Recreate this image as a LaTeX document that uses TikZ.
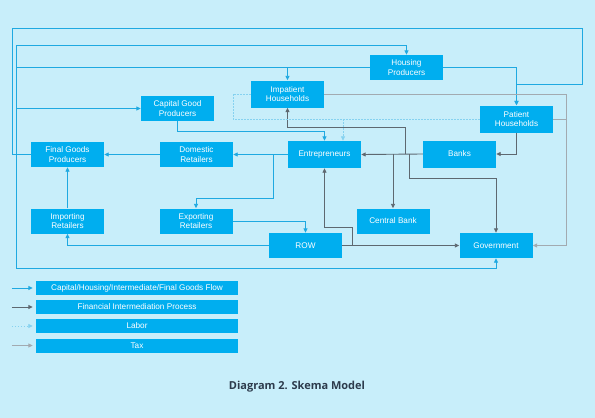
\documentclass[tikz,border=0pt]{standalone}
\usepackage{fontspec}
\setmainfont{Liberation Sans}
\newfontfamily\titlefont{Open Sans}
\usetikzlibrary{arrows.meta}
\definecolor{bgcyan}{HTML}{C8EEFA}
\definecolor{boxcyan}{HTML}{00AEEF}
\definecolor{flowblue}{HTML}{1FA9E1}
\definecolor{findark}{HTML}{5E6870}
\definecolor{laborblue}{HTML}{86D2F0}
\definecolor{taxgray}{HTML}{A2AAB0}
\definecolor{titleink}{HTML}{2D3B4C}
\begin{document}
\begin{tikzpicture}[x=1pt, y=-1pt, >={Triangle[length=4.5pt,width=4pt]},
  box/.style={fill=boxcyan, text=white, align=center, minimum width=73pt, minimum height=25pt, inner sep=1pt, font=\fontsize{8.2}{9.3}\selectfont},
  tallbox/.style={box, minimum height=27pt},
  legend/.style={box, minimum width=202pt, minimum height=14pt},
  flow/.style={draw=flowblue, line width=0.9pt},
  fin/.style={draw=findark, line width=0.9pt},
  labor/.style={draw=laborblue, line width=0.8pt, dash pattern=on 1.5pt off 1.5pt},
  tax/.style={draw=taxgray, line width=0.9pt}]
\fill[bgcyan] (0,0) rectangle (595,418);
\useasboundingbox (0,0) rectangle (595,418);
% agents
\node[box] (housing) at (406.5,67.5) {Housing\\Producers};
\node[tallbox] (impatient) at (287.5,94) {Impatient\\Households};
\node[box] (capital) at (177.5,108.5) {Capital Good\\Producers};
\node[tallbox] (patient) at (516.5,119) {Patient\\Households};
\node[box] (final) at (67.5,154.5) {Final Goods\\Producers};
\node[box] (domestic) at (196.5,154.5) {Domestic\\Retailers};
\node[tallbox] (entre) at (324.5,154.5) {Entrepreneurs};
\node[tallbox] (banks) at (459.5,154) {Banks};
\node[box] (importing) at (67.5,221) {Importing\\Retailers};
\node[box] (exporting) at (196,221) {Exporting\\Retailers};
\node[box] (central) at (393,221) {Central Bank};
\node[box] (row) at (305.5,245.5) {ROW};
\node[box] (government) at (496,245.5) {Government};
% turning points
\coordinate (outerTL) at (12,28);
\coordinate (outerTR) at (582,84);
\coordinate (trunkTop) at (16,45);
\coordinate (trunkBot) at (16,268);
\coordinate (expTurn) at (273,198);
\coordinate (govTurn) at (409,178);
\coordinate (impTurn) at (405,127);
\coordinate (rowTurn) at (352,227);
\coordinate (taxLane) at (566,94);
\coordinate (labCorner) at (233,119);
% goods flow
\draw[flow,->] (final.west) -| (outerTL) -| (outerTR) -- (patient.north |- outerTR) -- (patient.north);
\draw[flow,->] (final.west) -| (trunkTop) -| (housing.north);
\draw[flow,->] (final.west) -| (trunkBot) -| (government.south);
\draw[flow,->] (trunkTop |- housing.west) -| (impatient.north);
\draw[flow] (housing.west) -- (housing.west -| impatient.north);
\draw[flow,->] (trunkTop |- capital.west) -- (capital.west);
\draw[flow,->] (housing.east) -| (patient.north);
\draw[flow,->] (capital.south) -- ++(0,10) -| (entre.north);
\draw[flow,->] (entre.west) -- (domestic.east);
\draw[flow,->] (entre.west -| expTurn) -- (expTurn) -| (exporting.north);
\draw[flow,->] (domestic.west) -- (final.east);
\draw[flow,->] (importing.north) -- (final.south);
\draw[flow,->] (exporting.east) -| (row.north);
\draw[flow,->] (row.west) -| (importing.south);
% financial intermediation
\draw[fin,->] (banks.west) -- (entre.east);
\draw[fin,->] (patient.south) |- (banks.east);
\draw[fin,->] (central.north |- banks.west) -- (central.north);
\draw[fin,->] (govTurn |- banks.west) -- (govTurn) -| (government.north);
\draw[fin,->] (impTurn |- banks.west) -- (impTurn) -| (impatient.south);
\draw[fin,->] (row.east) -- (government.west);
\draw[fin,->] (rowTurn |- row.east) -- (rowTurn) -| (entre.south);
% labor
\draw[labor] (impatient.west) -| (labCorner) -- (labCorner -| patient.west);
\draw[labor,->] ([xshift=18.5pt]entre.north |- labCorner) -- ([xshift=18.5pt]entre.north);
% tax
\draw[tax,->] (impatient.east) -- (taxLane) |- (government.east);
\draw[tax] (patient.east) -- (patient.east -| taxLane);
% legend
\node[legend] (legflow) at (137,288) {Capital/Housing/Intermediate/Final Goods Flow};
\node[legend] (legfin) at (137,307) {Financial Intermediation Process};
\node[legend] (leglab) at (137,326) {Labor};
\node[legend] (legtax) at (137,345.5) {Tax};
\draw[flow,->] ([xshift=-24pt]legflow.west) -- ([xshift=-3pt]legflow.west);
\draw[fin,->] ([xshift=-24pt]legfin.west) -- ([xshift=-3pt]legfin.west);
\draw[labor,->] ([xshift=-24pt]leglab.west) -- ([xshift=-3pt]leglab.west);
\draw[tax,->] ([xshift=-24pt]legtax.west) -- ([xshift=-3pt]legtax.west);
\node[text=titleink, font=\titlefont\bfseries\fontsize{11}{13}\selectfont] (title) at (297,387) {Diagram 2. Skema Model};
\end{tikzpicture}
\end{document}
